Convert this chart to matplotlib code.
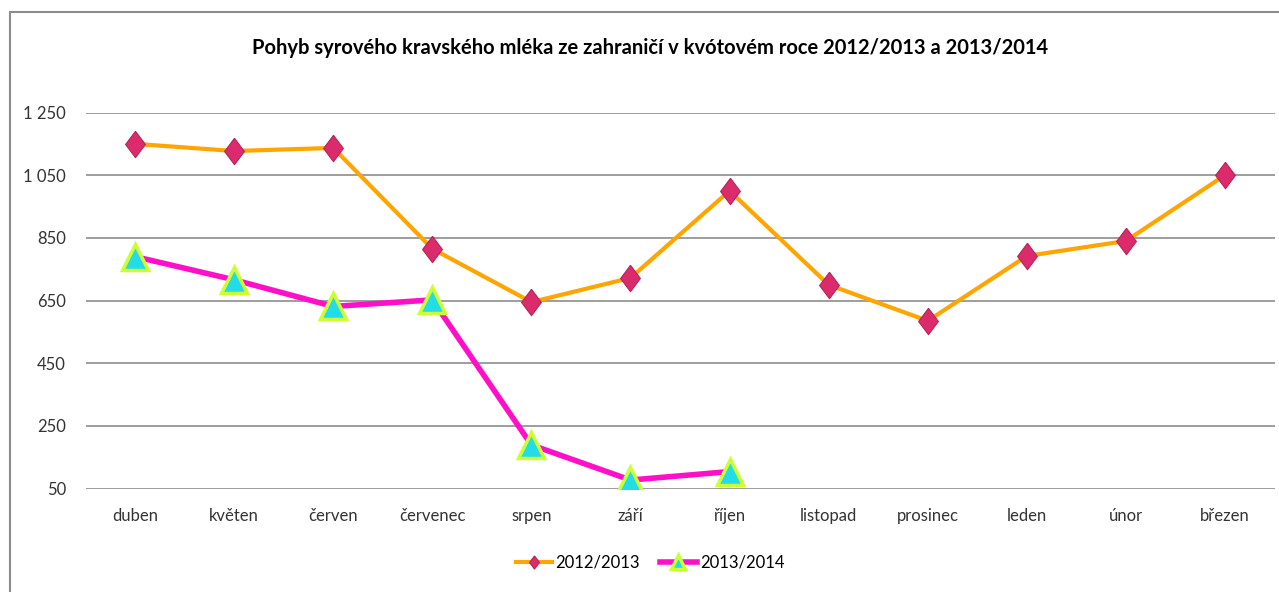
import matplotlib
matplotlib.use("Agg")
import matplotlib.pyplot as plt
from matplotlib.patches import Rectangle
from matplotlib.ticker import FixedLocator, FuncFormatter

plt.rcParams['font.family'] = ['Lato', 'DejaVu Sans']

months = ["duben", "květen", "červen", "červenec", "srpen", "září",
          "říjen", "listopad", "prosinec", "leden", "únor", "březen"]
s2012 = [1150, 1127, 1137, 815, 645, 722, 1000, 700, 585, 792, 840, 1050]
s2014 = [790, 716, 631, 652, 189, 77, 104]
yticks = [50, 250, 450, 650, 850, 1050, 1250]

fig = plt.figure(figsize=(12.79, 5.92), dpi=100)
ax = fig.add_axes([85.5 / 1279, 1 - 488.5 / 592, (1274.5 - 85.5) / 1279, 376 / 592])

# rámeček grafu
fig.patches.append(Rectangle((10 / 1279, -0.01), 1.02, 1 - 12 / 592 + 0.01,
                             transform=fig.transFigure, fill=False,
                             edgecolor="#8c8c8c", linewidth=1.5))

# kosočtverec o něco vyšší než širší (jako v Excelu)
diamond = [(0, 1), (0.75, 0), (0, -1), (-0.75, 0), (0, 1)]

x = list(range(len(months)))
ax.plot(x, s2012, color="#FFA500", linewidth=3, marker=diamond, markersize=19,
        markerfacecolor="#DB2B6C", markeredgecolor="#B52458", markeredgewidth=0.8,
        label="2012/2013", zorder=3)
ax.plot(x[:len(s2014)], s2014, color="#FF10C8", linewidth=4, marker="^", markersize=19,
        markerfacecolor="#22DCE8", markeredgecolor="#CCFF33", markeredgewidth=2.5,
        label="2013/2014", zorder=4)

ax.set_xlim(-0.5, len(months) - 0.5)
ax.set_ylim(50, 1250)
ax.yaxis.set_major_locator(FixedLocator(yticks))
ax.yaxis.set_major_formatter(FuncFormatter(lambda v, p: f"{int(v):,}".replace(",", " ")))
ax.set_xticks(x)
ax.set_xticklabels(months)
ax.grid(axis="y", color="#8c8c8c", linewidth=1.2)
ax.set_axisbelow(True)
for sp in ax.spines.values():
    sp.set_visible(False)
ax.tick_params(axis="both", length=0, labelsize=12, colors="#333333")
ax.tick_params(axis="x", pad=14)
ax.tick_params(axis="y", pad=14)

fig.text(650 / 1279, 1 - 48 / 592, "Pohyb syrového kravského mléka ze zahraničí v kvótovém roce 2012/2013 a 2013/2014",
         ha="center", va="center", fontsize=14.5, fontweight="bold", color="black")

fig.legend(loc="center", bbox_to_anchor=(650 / 1279, 1 - 563 / 592), ncol=2, frameon=False,
           fontsize=12, handlelength=2.2, handletextpad=0.2, columnspacing=1.2,
           markerscale=0.5)

fig.savefig("out.png", dpi=100)
